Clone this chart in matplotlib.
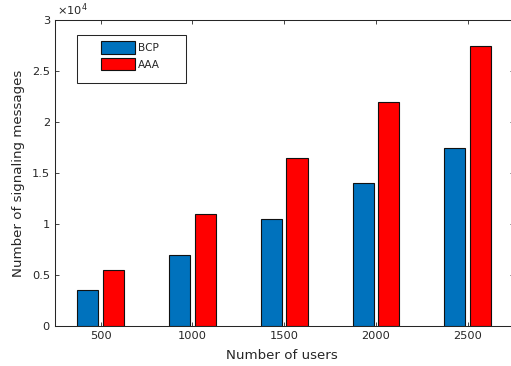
import matplotlib
matplotlib.use("Agg")
import matplotlib.pyplot as plt
from matplotlib.patches import Rectangle
from matplotlib.ticker import FuncFormatter
import numpy as np

users = [500, 1000, 1500, 2000, 2500]
bcp = [3500, 7000, 10500, 14000, 17500]
aaa = [5500, 11000, 16500, 22000, 27500]
yticks = [0, 5000, 10000, 15000, 20000, 25000, 30000]

dark = '#262626'
plt.rcParams['font.family'] = 'DejaVu Sans'

fig = plt.figure(figsize=(5.11, 3.66), dpi=100)
W, H = 511.0, 366.0
ax = fig.add_axes([54.8 / W, 40 / H, 458.8 / W, 306 / H])

x = np.array(users)
off = 70
bw = 115
ax.bar(x - off, bcp, width=bw, color='#0072BD', edgecolor='#111111',
       linewidth=0.8, label='BCP', zorder=3)
ax.bar(x + off, aaa, width=bw, color='#FF0000', edgecolor='#111111',
       linewidth=0.8, label='AAA', zorder=3)

ax.set_xlim(250, 2750)
ax.set_ylim(0, 30000)
ax.set_xticks(users)
ax.set_yticks(yticks)
ax.yaxis.set_major_formatter(FuncFormatter(lambda v, p: '%g' % (v / 1e4)))

ax.tick_params(direction='in', length=3.2, width=0.6, colors=dark,
               labelsize=8.2, top=True, right=True)
for s in ax.spines.values():
    s.set_color(dark)
    s.set_linewidth(0.75)

ax.text(0.005, 1.005, u'\u00d710$^{4}$', transform=ax.transAxes,
        fontsize=8.2, color=dark, ha='left', va='bottom')

ax.set_xlabel('Number of users', fontsize=9.6, color=dark)
ax.set_ylabel('Number of signaling messages', fontsize=9.6, color=dark)
ax.xaxis.set_label_coords(0.496, -0.095)
ax.xaxis.label.set_va('center')
ax.yaxis.set_label_coords(-0.080, 0.5)
ax.yaxis.label.set_va('center')

leg = ax.legend(loc='upper left', bbox_to_anchor=(0.1007, 0.931),
                frameon=False, borderpad=0, borderaxespad=0,
                handlelength=3.2, handleheight=1.45, handletextpad=0.3,
                labelspacing=0.4, fontsize=7.6)
for t in leg.get_texts():
    t.set_color(dark)
ax.add_patch(Rectangle((0.0484, 0.794), 0.2374, 0.157, transform=ax.transAxes,
                       fill=True, facecolor='white', edgecolor=dark,
                       linewidth=0.75, zorder=4))
leg.set_zorder(5)

fig.savefig('out.png', dpi=100)
